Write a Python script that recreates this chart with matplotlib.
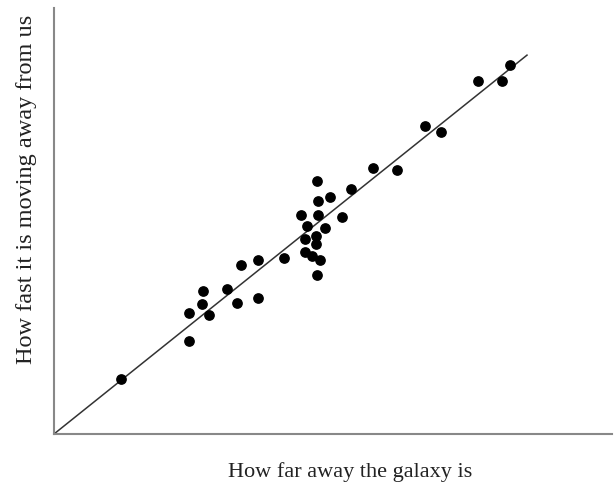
import numpy as np
import matplotlib
matplotlib.use('Agg')
import matplotlib.pyplot as plt

# galaxy distance vs recession speed (arbitrary units)
distance = [67, 135, 135, 148, 149, 155, 173, 183, 187, 204, 204, 230,
            251, 258, 266, 263, 251, 262, 262, 253, 271, 247, 264, 288,
            264, 276, 263, 297, 319, 343, 371, 387, 424, 448, 456]
speed = [55, 93, 121, 130, 143, 119, 145, 131, 169, 174, 136, 176,
         182, 178, 174, 159, 195, 198, 190, 208, 206, 219, 219, 217,
         233, 237, 253, 245, 266, 264, 308, 302, 353, 353, 369]

# straight-line fit through the origin
hubble_slope = 0.801
line_x = [0, 473]

plt.rcParams['font.family'] = ['Liberation Serif', 'DejaVu Serif']

fig = plt.figure(figsize=(6.14, 4.83), dpi=100)
ax = fig.add_axes([54 / 614, 49 / 483, 558 / 614, 426 / 483])

ax.plot(line_x, [hubble_slope * v for v in line_x], color='#333333', linewidth=1.1)
ax.scatter(distance, speed, s=45, color='black', zorder=3)

ax.set_xlim(0, 558)
ax.set_ylim(0, 426)
ax.set_xticks([])
ax.set_yticks([])
for side in ['top', 'right']:
    ax.spines[side].set_visible(False)
for side in ['left', 'bottom']:
    ax.spines[side].set_color('#888888')
    ax.spines[side].set_linewidth(1.5)

fig.text(350 / 614, 1 - 472 / 483, 'How far away the galaxy is', fontsize=16,
         ha='center', va='center', color='#222222')
fig.text(27 / 614, 1 - 189 / 483, 'How fast it is moving away from us', fontsize=17.5,
         rotation=90, ha='center', va='center', color='#222222')

plt.savefig('out.png', dpi=100)
plt.close()
